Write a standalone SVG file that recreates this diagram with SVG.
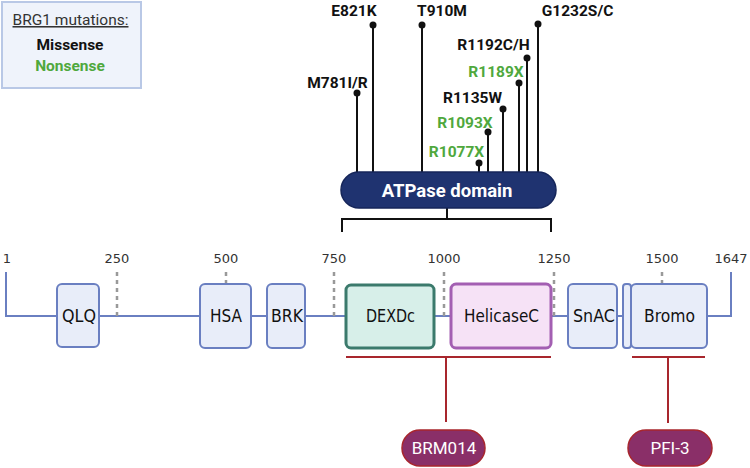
<svg xmlns="http://www.w3.org/2000/svg" width="750" height="468" viewBox="0 0 750 468">
<style>
.bg{fill:#ffffff}
.leg{fill:#eff3fb;stroke:#b9c8e6;stroke-width:2}
.lt{font-family:Roboto,"Liberation Sans",sans-serif;font-size:15.5px;text-anchor:middle}
.mut{font-family:Roboto,"Liberation Sans",sans-serif;font-size:15.5px;font-weight:bold;text-anchor:middle;fill:#111}
.ns{fill:#4fa83d}
.stem{stroke:#111;stroke-width:2;fill:none}
.dot{fill:#111}
.prot{stroke:#6a7fc1;stroke-width:2;fill:none}
.tick{stroke:#999;stroke-width:2.5;stroke-dasharray:4,4;fill:none}
.tl{font-family:"DejaVu Sans",sans-serif;font-size:13px;fill:#333;text-anchor:middle}
.dom{fill:#e8edf9;stroke:#6a7fc1;stroke-width:2}
.dl{font-family:"DejaVu Sans",sans-serif;font-size:17px;fill:#111;text-anchor:middle}
.red{stroke:#a8262d;stroke-width:2;fill:none}
.pill{fill:#8a2f68;stroke:#a8262d;stroke-width:1.5}
.pt{font-family:Roboto,"Liberation Sans",sans-serif;font-size:17px;fill:#fff;text-anchor:middle}
</style>
<rect class="bg" x="0" y="0" width="750" height="468"/>
<g id="legend">
<rect class="leg" x="2" y="2" width="139" height="86"/>
<text class="lt" x="70.5" y="25" fill="#333" text-decoration="underline">BRG1 mutations:</text>
<text class="lt" x="70" y="50" font-weight="bold" fill="#111">Missense</text>
<text class="lt" x="70" y="71" font-weight="bold" fill="#4fa83d">Nonsense</text>
</g>
<g id="connectors">
<path class="stem" d="M357 93V173 M373 25V173 M422 25V173 M538 24V173 M527 58V173 M519 83V173 M503 109V173 M488 132V173 M479 163V173"/>
<circle class="dot" cx="357" cy="93" r="3.5"/>
<circle class="dot" cx="373" cy="25" r="3.5"/>
<circle class="dot" cx="422" cy="25" r="3.5"/>
<circle class="dot" cx="538" cy="24" r="3.5"/>
<circle class="dot" cx="527" cy="58" r="3.5"/>
<circle class="dot" cx="519" cy="83" r="3.5"/>
<circle class="dot" cx="503" cy="109" r="3.5"/>
<circle class="dot" cx="488" cy="132" r="3.5"/>
<circle class="dot" cx="479" cy="163" r="3.5"/>
<path class="stem" d="M447 208V219 M342 232V219H551V232"/>
<path class="red" d="M346 357H551 M446 357V422 M632 357H705 M668 357V423"/>
</g>
<g id="mutations">
<text class="mut" x="337.5" y="88">M781I/R</text>
<text class="mut" x="354" y="16">E821K</text>
<text class="mut" x="442" y="16">T910M</text>
<text class="mut" x="577.5" y="16">G1232S/C</text>
<text class="mut" x="493.5" y="50">R1192C/H</text>
<text class="mut ns" x="496" y="77">R1189X</text>
<text class="mut" x="472.5" y="103">R1135W</text>
<text class="mut ns" x="465" y="128">R1093X</text>
<text class="mut ns" x="456.5" y="157">R1077X</text>
</g>
<g id="atpase">
<rect x="341" y="172" width="215" height="36" rx="18" fill="#1f3370" stroke="#16265a" stroke-width="1.5"/>
<text x="447" y="197" font-family="Roboto,'Liberation Sans',sans-serif" font-size="18.5px" font-weight="bold" fill="#fff" text-anchor="middle">ATPase domain</text>
</g>
<g id="protein">
<path class="prot" d="M6 272V316H731V272"/>
<path class="tick" d="M117 272V316 M226 272V316 M334 272V316 M444 272V316 M554 272V316 M662 272V316"/>
<text class="tl" x="7" y="263">1</text>
<text class="tl" x="117" y="263">250</text>
<text class="tl" x="226" y="263">500</text>
<text class="tl" x="334" y="263">750</text>
<text class="tl" x="444" y="263">1000</text>
<text class="tl" x="554" y="263">1250</text>
<text class="tl" x="662" y="263">1500</text>
<text class="tl" x="731" y="263">1647</text>
</g>
<g id="QLQ"><rect class="dom" x="57" y="284" width="42" height="63" rx="5"/><text class="dl" x="79" y="322" textLength="34" lengthAdjust="spacingAndGlyphs">QLQ</text></g>
<g id="HSA"><rect class="dom" x="200" y="284" width="51" height="64" rx="5"/><text class="dl" x="226" y="322" textLength="32" lengthAdjust="spacingAndGlyphs">HSA</text></g>
<g id="BRK"><rect class="dom" x="267" y="284" width="38" height="64" rx="5"/><text class="dl" x="287" y="322" textLength="32" lengthAdjust="spacingAndGlyphs">BRK</text></g>
<g id="DEXDc"><rect x="346" y="285" width="88" height="63" rx="5" fill="#d7efe9" stroke="#3b7a6c" stroke-width="3"/><text class="dl" x="390.5" y="322" textLength="49" lengthAdjust="spacingAndGlyphs">DEXDc</text></g>
<g id="HelicaseC"><rect x="451" y="284" width="100" height="64" rx="5" fill="#f6e2f6" stroke="#a35fb2" stroke-width="3"/><text class="dl" x="501.5" y="322" textLength="75" lengthAdjust="spacingAndGlyphs">HelicaseC</text></g>
<g id="SnAC"><rect class="dom" x="568" y="284" width="49" height="64" rx="5"/><text class="dl" x="594" y="322" textLength="42" lengthAdjust="spacingAndGlyphs">SnAC</text></g>
<g id="small"><rect class="dom" x="623" y="284" width="8" height="64" rx="3"/></g>
<g id="Bromo"><rect class="dom" x="631" y="284" width="76" height="64" rx="5"/><text class="dl" x="669.5" y="322" textLength="51" lengthAdjust="spacingAndGlyphs">Bromo</text></g>
<g id="BRM014"><rect class="pill" x="402" y="430" width="83" height="36" rx="18"/><text class="pt" x="444" y="454">BRM014</text></g>
<g id="PFI-3"><rect class="pill" x="628" y="430" width="84" height="36" rx="18"/><text class="pt" x="670" y="454">PFI-3</text></g>
</svg>
